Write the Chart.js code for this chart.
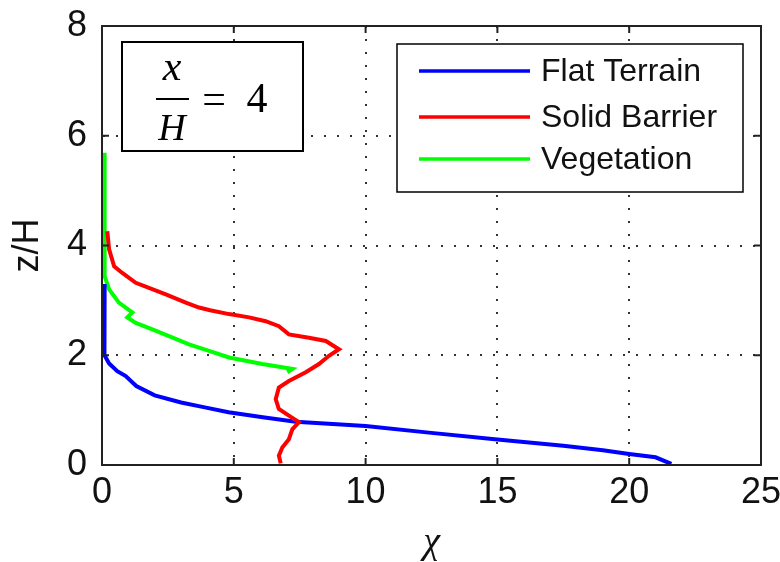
<!DOCTYPE html>
<html>
<head>
<meta charset="utf-8">
<script src="https://cdn.jsdelivr.net/npm/chart.js@4.4.1/dist/chart.umd.min.js"></script>
<style>
    html, body { margin: 0; padding: 0; background: #fff; }
    #caixa { width: 780px; height: 562px; }
</style>
</head>
<body>
<div id="caixa"><canvas id="perfil"></canvas></div>
<script>
// eixos
const xTicks = [0, 5, 10, 15, 20, 25];
const zTicks = [0, 2, 4, 6, 8];

// Flat Terrain (azul)
const flatX = [0.1, 0.1, 0.08, 0.1, 0.27, 0.58, 0.9, 1.3, 2.0, 3.0, 3.9, 4.8, 6.1, 7.35, 8.6, 10.0, 12.4, 14.9, 17.5, 19.0, 20.0, 21.0, 21.6];
const flatZ = [3.3, 2.5, 2.44, 2.0, 1.85, 1.71, 1.62, 1.44, 1.27, 1.14, 1.05, 0.96, 0.87, 0.79, 0.75, 0.71, 0.59, 0.47, 0.35, 0.27, 0.2, 0.14, 0.02];

// Solid Barrier (vermelho)
const barreiraX = [0.2, 0.27, 0.46, 0.77, 1.28, 1.78, 2.42, 3.18, 3.68, 4.1, 4.82, 5.58, 6.21, 6.71, 7.09, 7.85, 8.49, 8.99, 8.61, 8.23, 7.73, 7.09, 6.71, 6.59, 6.71, 7.09, 7.47, 7.22, 7.09, 6.84, 6.71, 6.78];
const barreiraZ = [4.26, 3.93, 3.62, 3.5, 3.32, 3.23, 3.11, 2.96, 2.87, 2.82, 2.75, 2.69, 2.62, 2.53, 2.38, 2.32, 2.26, 2.11, 1.99, 1.84, 1.69, 1.53, 1.41, 1.2, 1.02, 0.9, 0.78, 0.65, 0.47, 0.32, 0.17, 0.03];

// Vegetation (verde)
const vegX = [0.1, 0.1, 0.27, 0.64, 1.15, 0.96, 1.28, 1.91, 2.54, 3.3, 4.06, 4.82, 6.08, 6.84, 7.22, 7.03];
const vegZ = [5.69, 3.44, 3.2, 2.96, 2.78, 2.69, 2.59, 2.47, 2.35, 2.2, 2.08, 1.96, 1.84, 1.78, 1.75, 1.69];

const series = ['Flat Terrain', 'Solid Barrier', 'Vegetation'];
const cores = ['#0000ff', '#ff0000', '#00ff00'];

function pontos(xs, zs) {
    return xs.map((x, i) => ({ x: x, y: zs[i] }));
}

// moldura, marcas internas, caixa x/H e legenda
const extras = {
    id: 'extras',
    afterDraw(chart) {
        const ctx = chart.ctx;
        const ca = chart.chartArea;
        const sx = chart.scales.x, sy = chart.scales.y;

        ctx.save();
        // marcas internas (estilo matlab)
        ctx.strokeStyle = '#222';
        ctx.lineWidth = 2;
        ctx.beginPath();
        xTicks.forEach(v => {
            const p = sx.getPixelForValue(v);
            ctx.moveTo(p, ca.bottom); ctx.lineTo(p, ca.bottom - 7);
            ctx.moveTo(p, ca.top); ctx.lineTo(p, ca.top + 7);
        });
        zTicks.forEach(v => {
            const p = sy.getPixelForValue(v);
            ctx.moveTo(ca.left, p); ctx.lineTo(ca.left + 7, p);
            ctx.moveTo(ca.right, p); ctx.lineTo(ca.right - 7, p);
        });
        ctx.stroke();
        ctx.strokeRect(ca.left, ca.top, ca.right - ca.left, ca.bottom - ca.top);

        // caixa x/H = 4
        const bx = ca.left + 20, by = ca.top + 16;
        ctx.fillStyle = '#fff';
        ctx.fillRect(bx, by, 181, 109);
        ctx.strokeStyle = '#000';
        ctx.lineWidth = 2;
        ctx.strokeRect(bx, by, 181, 109);
        ctx.fillStyle = '#000';
        ctx.textAlign = 'center';
        ctx.textBaseline = 'alphabetic';
        ctx.font = 'italic 42px "Liberation Serif", "DejaVu Serif", serif';
        ctx.fillText('x', bx + 50, by + 38);
        ctx.font = 'italic 38px "Liberation Serif", "DejaVu Serif", serif';
        ctx.fillText('H', bx + 50, by + 98);
        ctx.fillRect(bx + 34, by + 56, 33, 2);
        ctx.font = '42px "Liberation Serif", "DejaVu Serif", serif';
        ctx.fillText('=', bx + 92, by + 71);
        ctx.fillText('4', bx + 135, by + 70);

        // legenda
        const lx = ca.right - 18 - 346, ly = ca.top + 18;
        ctx.fillStyle = '#fff';
        ctx.fillRect(lx, ly, 346, 148);
        ctx.lineWidth = 1.5;
        ctx.strokeRect(lx, ly, 346, 148);
        const linhas = [27, 73, 115];
        ctx.font = '32px "Liberation Sans", Arial, sans-serif';
        ctx.textAlign = 'left';
        ctx.textBaseline = 'middle';
        chart.data.datasets.forEach((ds, i) => {
            const yy = ly + linhas[i];
            ctx.strokeStyle = ds.borderColor;
            ctx.lineWidth = 3.5;
            ctx.beginPath();
            ctx.moveTo(lx + 22, yy);
            ctx.lineTo(lx + 133, yy);
            ctx.stroke();
            ctx.fillStyle = '#111';
            ctx.fillText(ds.label, lx + 144, yy + 1);
        });
        ctx.restore();
    }
};

const fonteTick = { family: '"Liberation Sans", Arial, sans-serif', size: 36 };
const gradeOpts = { color: '#333', lineWidth: 2, drawTicks: false };
const bordaOpts = { display: true, color: '#222', width: 2, dash: [2, 11] };

new Chart(document.getElementById('perfil'), {
    type: 'scatter',
    data: {
        datasets: [
            { label: series[0], data: pontos(flatX, flatZ), borderColor: cores[0], order: 1 },
            { label: series[1], data: pontos(barreiraX, barreiraZ), borderColor: cores[1], order: 0 },
            { label: series[2], data: pontos(vegX, vegZ), borderColor: cores[2], order: 2 }
        ].map(d => Object.assign(d, {
            showLine: true, pointRadius: 0, borderWidth: 4, fill: false, tension: 0, backgroundColor: d.borderColor
        }))
    },
    options: {
        responsive: true,
        maintainAspectRatio: false,
        animation: false,
        layout: { padding: { left: 0, top: 26, right: 19, bottom: 0 } },
        plugins: { legend: { display: false }, tooltip: { enabled: false } },
        scales: {
            x: {
                type: 'linear', min: 0, max: 25,
                afterBuildTicks: s => { s.ticks = xTicks.map(v => ({ value: v })); },
                afterFit: s => { s.height = 97; s.paddingLeft = 0; s.paddingRight = 0; },
                ticks: { color: '#111', font: fonteTick, padding: 6, maxRotation: 0 },
                grid: gradeOpts,
                border: bordaOpts,
                title: {
                    display: true, text: 'χ', color: '#111',
                    font: { family: '"Liberation Serif", "DejaVu Serif", serif', size: 38, style: 'italic', lineHeight: 1 },
                    padding: { top: 2, bottom: 0 }
                }
            },
            y: {
                type: 'linear', min: 0, max: 8,
                afterBuildTicks: s => { s.ticks = zTicks.map(v => ({ value: v })); },
                afterFit: s => { s.width = 102; s.paddingTop = 0; s.paddingBottom = 0; },
                ticks: { color: '#111', font: fonteTick, padding: 15 },
                grid: gradeOpts,
                border: bordaOpts,
                title: {
                    display: true, text: 'z/H', color: '#111',
                    font: { family: '"Liberation Sans", Arial, sans-serif', size: 36, lineHeight: 1 },
                    padding: { top: 10, bottom: 0 }
                }
            }
        }
    },
    plugins: [extras]
});
</script>
</body>
</html>
